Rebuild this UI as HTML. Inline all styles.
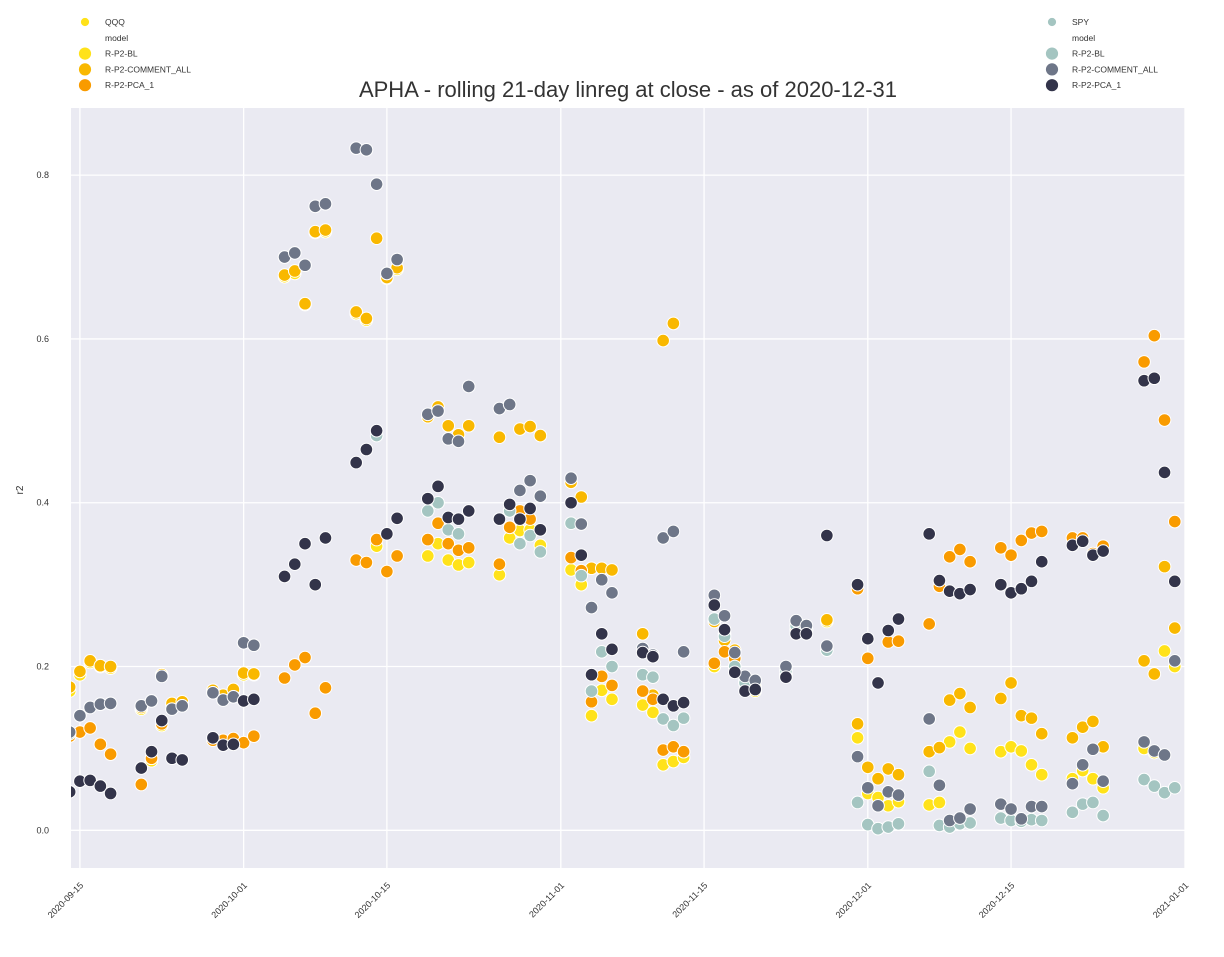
<!DOCTYPE html>
<html><head><meta charset="utf-8"><style>
body{margin:0;background:#fff;font-family:"Liberation Sans",sans-serif;}
svg text{font-family:"Liberation Sans",sans-serif;}
</style></head><body>
<svg id="chart" width="1224" height="952" xmlns="http://www.w3.org/2000/svg"></svg>
<script>
const dates=["2020-09-14","2020-09-15","2020-09-16","2020-09-17","2020-09-18","2020-09-21","2020-09-22","2020-09-23","2020-09-24","2020-09-25","2020-09-28","2020-09-29","2020-09-30","2020-10-01","2020-10-02","2020-10-05","2020-10-06","2020-10-07","2020-10-08","2020-10-09","2020-10-12","2020-10-13","2020-10-14","2020-10-15","2020-10-16","2020-10-19","2020-10-20","2020-10-21","2020-10-22","2020-10-23","2020-10-26","2020-10-27","2020-10-28","2020-10-29","2020-10-30","2020-11-02","2020-11-03","2020-11-04","2020-11-05","2020-11-06","2020-11-09","2020-11-10","2020-11-11","2020-11-12","2020-11-13","2020-11-16","2020-11-17","2020-11-18","2020-11-19","2020-11-20","2020-11-23","2020-11-24","2020-11-25","2020-11-27","2020-11-30","2020-12-01","2020-12-02","2020-12-03","2020-12-04","2020-12-07","2020-12-08","2020-12-09","2020-12-10","2020-12-11","2020-12-14","2020-12-15","2020-12-16","2020-12-17","2020-12-18","2020-12-21","2020-12-22","2020-12-23","2020-12-24","2020-12-28","2020-12-29","2020-12-30","2020-12-31"];
const qqqBL=[0.17,0.19,0.205,0.2,0.198,0.148,0.085,0.128,0.153,0.155,0.17,0.163,0.17,0.19,0.19,0.676,0.68,0.642,0.73,0.731,0.631,0.623,0.347,0.674,0.685,0.335,0.35,0.33,0.324,0.327,0.312,0.357,0.366,0.367,0.348,0.318,0.30,0.14,0.171,0.16,0.153,0.144,0.08,0.084,0.089,0.2,0.24,0.2,0.18,0.17,0.19,0.245,0.245,0.255,0.113,0.045,0.04,0.03,0.035,0.031,0.034,0.108,0.12,0.1,0.096,0.102,0.097,0.08,0.068,0.063,0.073,0.063,0.052,0.1,0.095,0.219,0.2];
const qqqCA=[0.175,0.194,0.207,0.201,0.2,0.15,0.088,0.19,0.155,0.157,0.171,0.165,0.172,0.192,0.191,0.678,0.683,0.643,0.731,0.733,0.633,0.625,0.723,0.675,0.687,0.505,0.517,0.494,0.483,0.494,0.48,0.37,0.49,0.493,0.482,0.425,0.407,0.32,0.32,0.318,0.24,0.165,0.598,0.619,0.096,0.255,0.232,0.22,0.183,0.175,0.19,0.25,0.245,0.257,0.13,0.077,0.063,0.075,0.068,0.096,0.101,0.159,0.167,0.15,0.161,0.18,0.14,0.137,0.118,0.113,0.126,0.133,0.102,0.207,0.191,0.322,0.247];
const qqqPCA=[0.115,0.12,0.125,0.105,0.093,0.056,0.088,0.13,null,null,0.11,0.11,0.112,0.107,0.115,0.186,0.202,0.211,0.143,0.174,0.33,0.327,0.355,0.316,0.335,0.355,0.375,0.35,0.342,0.345,0.325,0.37,0.39,0.38,0.367,0.333,0.317,0.157,0.188,0.177,0.17,0.16,0.098,0.102,0.096,0.204,0.218,0.21,0.18,0.172,null,0.245,0.243,null,0.295,0.21,null,0.23,0.231,0.252,0.298,0.334,0.343,0.328,0.345,0.336,0.354,0.363,0.365,0.357,0.357,0.338,0.347,0.572,0.604,0.501,0.377];
const spyBL=[0.118,0.14,0.15,0.154,0.155,0.152,0.158,0.188,0.148,0.152,0.168,0.159,0.163,0.229,0.226,0.70,0.705,0.69,0.762,0.765,0.833,0.831,0.482,0.68,0.697,0.39,0.40,0.367,0.362,0.39,0.38,0.39,0.35,0.36,0.34,0.375,0.311,0.17,0.218,0.20,0.19,0.187,0.136,0.128,0.137,0.258,0.237,0.2,0.18,0.172,0.195,0.25,0.245,0.22,0.034,0.007,0.002,0.004,0.008,0.072,0.006,0.004,0.008,0.009,0.015,0.012,0.011,0.013,0.012,0.022,0.032,0.034,0.018,0.062,0.054,0.046,0.052];
const spyCA=[0.12,0.14,0.15,0.154,0.155,0.152,0.158,0.188,0.148,0.152,0.168,0.159,0.163,0.229,0.226,0.70,0.705,0.69,0.762,0.765,0.833,0.831,0.789,0.68,0.697,0.508,0.512,0.478,0.475,0.542,0.515,0.52,0.415,0.427,0.408,0.43,0.374,0.272,0.306,0.29,0.222,0.214,0.357,0.365,0.218,0.287,0.262,0.217,0.188,0.183,0.2,0.256,0.25,0.225,0.09,0.052,0.03,0.047,0.043,0.136,0.055,0.012,0.015,0.026,0.032,0.026,0.014,0.029,0.029,0.057,0.08,0.099,0.06,0.108,0.097,0.092,0.207];
const spyPCA=[0.047,0.06,0.061,0.054,0.045,0.076,0.096,0.134,0.088,0.086,0.113,0.104,0.105,0.158,0.16,0.31,0.325,0.35,0.30,0.357,0.449,0.465,0.488,0.362,0.381,0.405,0.42,0.382,0.38,0.39,0.38,0.398,0.38,0.393,0.367,0.40,0.336,0.19,0.24,0.221,0.217,0.212,0.16,0.152,0.156,0.275,0.245,0.193,0.17,0.172,0.187,0.24,0.24,0.36,0.3,0.234,0.18,0.244,0.258,0.362,0.305,0.292,0.289,0.294,0.3,0.29,0.295,0.304,0.328,0.348,0.353,0.336,0.341,0.549,0.552,0.437,0.304];
const yTicks=[0.0,0.2,0.4,0.6,0.8];
const xTicks=["2020-09-15","2020-10-01","2020-10-15","2020-11-01","2020-11-15","2020-12-01","2020-12-15","2021-01-01"];
const seriesNames=["R-P2-BL","R-P2-COMMENT_ALL","R-P2-PCA_1"];

const NS="http://www.w3.org/2000/svg";
const svg=document.getElementById("chart");
const L=71,R=1185,T=108,B=868;
const d0=Date.UTC(2020,8,14)+0.13*864e5, d1=Date.UTC(2021,0,1);
const yMin=-0.046,yMax=0.882;
function dayMs(s){const p=s.split("-");return Date.UTC(+p[0],+p[1]-1,+p[2]);}
function xS(s){return L+(dayMs(s)-d0)/(d1-d0)*(R-L);}
function yS(v){return B-(v-yMin)/(yMax-yMin)*(B-T);}
function el(tag,attrs,parent){const e=document.createElementNS(NS,tag);for(const k in attrs)e.setAttribute(k,attrs[k]);(parent||svg).appendChild(e);return e;}

const bg=el("rect",{x:L,y:T,width:R-L,height:B-T,fill:"#eaeaf2"});


yTicks.forEach(v=>{
  const g=el("line",{x1:L,x2:R,y1:yS(v),y2:yS(v),stroke:"#fff","stroke-width":1.3});
  
  
  const t=el("text",{x:L-22,y:yS(v)+3,"font-size":9,fill:"#333","text-anchor":"end"});
  t.textContent=v.toFixed(1);
  
  
});
xTicks.forEach(s=>{
  const x=xS(s);
  const g=el("line",{x1:x,x2:x,y1:T,y2:B,stroke:"#fff","stroke-width":1.3});
  
  
  const t=el("text",{x:x+4,y:B+18,"font-size":9,fill:"#333","text-anchor":"end",transform:`rotate(-45 ${x+4} ${B+18})`});
  t.textContent=s;
  
  
});
const clip=el("clipPath",{id:"pc"});el("rect",{x:L,y:T,width:R-L,height:B-T},clip);
const pts=el("g",{"clip-path":"url(#pc)"});


const series=[[qqqBL,"#ffe21a","qqq-bl"],[qqqCA,"#f9b800","qqq-comment-all"],[qqqPCA,"#f99b00","qqq-pca-1"],[spyBL,"#a4c5c1","spy-bl"],[spyCA,"#6e7688","spy-comment-all"],[spyPCA,"#33344a","spy-pca-1"]];
series.forEach(([vals,col,nm])=>{
  vals.forEach((v,i)=>{
    if(v===null)return;
    const c=el("circle",{cx:xS(dates[i]),cy:yS(v),r:6.3,fill:col,stroke:"#fff","stroke-width":1},pts);
    
    
  });
});
const ti=el("text",{x:628,y:97,"font-size":22,fill:"#333","text-anchor":"middle"});
ti.textContent="APHA - rolling 21-day linreg at close - as of 2020-12-31";


const yl=el("text",{x:23,y:490,"font-size":10,fill:"#333","text-anchor":"middle",transform:"rotate(-90 23 490)"});
yl.textContent="r2";


function legend(x0,title,cols,prefix){
  const rows=[[title,cols[0],4.5],["model",null,0],[seriesNames[0],cols[0],6.5],[seriesNames[1],cols[1],6.5],[seriesNames[2],cols[2],6.5]];
  rows.forEach((r,i)=>{
    const y=22+i*15.8;
    if(r[1]){const c=el("circle",{cx:x0,cy:y,r:r[2],fill:r[1],stroke:"#fff","stroke-width":0.8});
      
      }
    const t=el("text",{x:x0+20,y:y+3,"font-size":8.5,fill:"#333"});
    t.textContent=r[0];
    
    
  });
}
legend(85,"QQQ",["#ffe21a","#f9b800","#f99b00"],"qqq");
legend(1052,"SPY",["#a4c5c1","#6e7688","#33344a"],"spy");
</script>
</body></html>
